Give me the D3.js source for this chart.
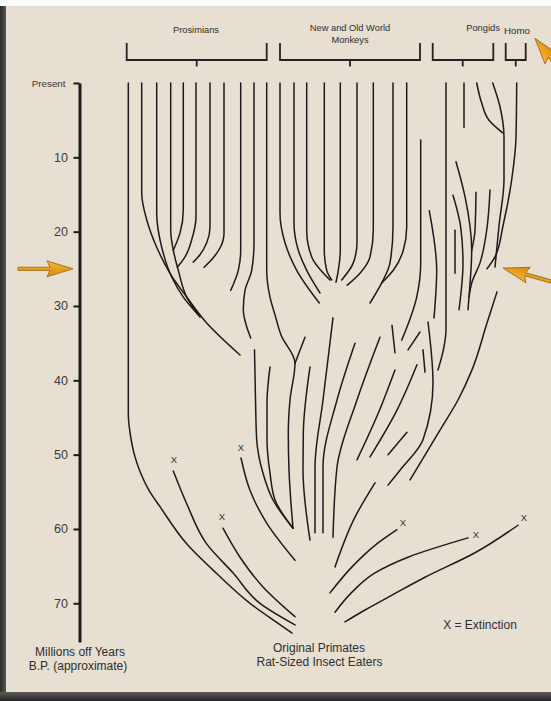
<!DOCTYPE html>
<html><head><meta charset="utf-8">
<script src="https://cdn.jsdelivr.net/npm/d3@7"></script>
<style>html,body{margin:0;padding:0;background:#fff;}svg{display:block;}</style>
</head><body>
<svg id="chart" width="551" height="701"></svg>
<script>
// ---------- DATA (lateral position units, millions of years B.P.) ----------
const timeTicks = [0, 10, 20, 30, 40, 50, 60, 70];
const tickLabels = ["Present", "10", "20", "30", "40", "50", "60", "70"];
const axisEnd = 75.2;

const groupNames = [["Prosimians"], ["New and Old World", "Monkeys"], ["Pongids"], ["Homo"]];
const groupFrom = [4.67, 20.0, 35.27, 42.57];
const groupTo = [18.67, 34.0, 41.33, 44.57];
const groupMid = [11.67, 27.0, 38.27, 43.57];
const groupLabelPos = [11.6, 27.0, 40.3, 43.7];

const prosimianLines = [
  [[4.83,0],[4.83,44.5],[5.0,47.0],[5.5,50.3],[6.07,52.5],[6.9,54.8],[8.0,57.0],[10.67,62.0],[13.67,66.0],[17.0,70.0],[19.6,72.5],[21.2,74.0]],
  [[6.17,0],[6.17,14.8],[6.67,18.4],[7.67,22.1],[9.0,25.6],[10.67,28.8],[12.67,32.3],[16.0,36.6]],
  [[7.67,0],[7.67,17.5],[8.17,22.1],[9.17,26.1],[10.33,28.8],[11.83,31.2]],
  [[9.07,0],[9.07,19.8],[9.33,22.5],[9.83,25.2],[10.67,28.8],[12.0,31.5]],
  [[10.33,0],[10.33,17.1],[10.0,20.2],[9.33,22.5]],
  [[11.6,0],[11.6,18.0],[11.17,21.1],[10.5,23.4],[9.73,24.8]],
  [[13.0,0],[13.0,19.4],[12.67,21.5],[12.0,23.1],[11.33,24.1]],
  [[14.4,0],[14.4,20.2],[14.0,22.2],[13.33,23.5],[12.4,24.8]],
  [[16.07,0],[16.07,22.5],[15.83,25.2],[15.07,27.9]],
  [[17.4,0],[17.4,21.5],[17.17,25.2],[16.5,27.9],[16.33,30.5],[16.67,32.8],[17.07,34.3]],
  [[18.67,0],[18.67,25.2],[19.0,28.8],[19.5,31.2],[20.1,33.9],[21.5,37.7],[21.0,42.65],[20.83,47.1],[20.9,52.1],[21.3,59.9]]
];

const monkeyLines = [
  [[20.0,0],[20.0,17.5],[20.5,21.5],[21.67,25.2],[23.93,29.6]],
  [[21.4,0],[21.4,18.8],[21.83,22.5],[22.67,25.2],[24.0,28.25]],
  [[22.67,0],[22.67,19.8],[23.17,23.4],[25.0,26.5]],
  [[24.43,0],[24.43,22.5],[24.67,25.2],[25.17,26.5]],
  [[26.03,0],[26.03,22.5],[25.83,25.2],[25.6,26.8]],
  [[27.7,0],[27.7,21.5],[27.33,24.2],[26.17,26.5]],
  [[29.33,0],[29.33,19.8],[29.0,23.4],[28.0,25.6],[26.73,27.2]],
  [[31.3,0],[31.3,19.4],[31.0,24.2],[30.17,26.9],[29.0,29.6]],
  [[32.67,0],[32.67,19.4],[32.33,22.5],[31.33,25.2],[30.17,26.9]],
  [[34.07,7.67],[34.07,24.2],[33.67,28.8],[32.17,34.6]],
  [[34.93,17.2],[35.67,25.2],[35.4,31.6]]
];

const apeLines = [
  [[36.6,0],[36.6,33.2],[36.4,35.5],[35.8,38.6]],
  [[38.4,0],[38.4,6.0]],
  [[39.67,0],[40.17,2.7],[40.9,5.0],[42.27,6.7]],
  [[41.27,0],[42.0,3.2],[42.4,7.3],[42.4,13.0],[41.9,19.2],[41.5,24.75]],
  [[37.6,10.6],[38.5,15.3],[39.17,22.5],[38.9,28.8],[38.8,30.5]],
  [[37.3,15.1],[38.07,19.4],[38.3,24.2],[37.9,30.5]],
  [[37.5,19.8],[37.5,25.6]],
  [[39.6,14.7],[39.5,19.8],[39.17,22.5]],
  [[41.0,14.4],[40.67,19.8],[40.0,24.2],[39.17,26.9],[38.9,28.8]]
];

const homoLines = [
  [[43.67,0],[43.6,7.3],[43.17,13.0],[42.3,19.2],[41.5,23.4],[40.7,25.0]]
];

const stemLines = [
  [[22.5,34.2],[21.5,37.7]],
  [[17.45,35.9],[17.55,42.65],[17.67,48.0],[18.3,52.5],[19.3,56.1],[21.3,59.9]],
  [[19.0,38.2],[18.7,43.0],[18.7,48.0],[19.0,52.5],[19.5,56.1],[21.3,59.9]],
  [[23.0,38.2],[22.33,47.1],[22.3,52.1],[23.0,61.5]],
  [[25.3,31.6],[24.3,42.65],[23.5,51.7],[23.5,60.5]],
  [[27.5,35.0],[25.7,42.65],[24.3,51.7],[24.3,60.5]],
  [[30.0,34.2],[27.7,42.65],[25.7,51.7],[25.3,61.1]],
  [[31.2,32.6],[31.5,36.3]],
  [[34.0,33.5],[32.8,35.9]],
  [[34.3,35.9],[34.5,38.9]],
  [[34.8,32.15],[35.3,40.4],[34.3,48.0],[32.0,52.1],[30.8,54.1]],
  [[31.5,38.6],[29.8,44.5],[27.7,50.7]],
  [[33.7,37.9],[31.7,44.0],[29.0,50.3]],
  [[32.7,47.0],[30.8,50.0]],
  [[29.5,53.8],[27.5,58.4],[25.5,65.1]],
  [[41.7,28.1],[40.7,32.3],[39.2,38.6],[37.8,42.65],[36.0,46.7],[33.0,53.4]]
];

const extinctLines = [
  [[9.33,52.2],[10.67,56.6],[12.67,62.0],[15.3,65.9],[18.0,70.0],[21.5,72.9]],
  [[16.1,50.45],[17.0,54.8],[18.67,59.2],[21.5,64.2]],
  [[14.3,59.9],[16.0,63.8],[18.3,67.8],[21.5,71.8]],
  [[31.7,60.1],[29.5,62.2],[27.2,65.1],[25.0,68.6]],
  [[38.8,61.2],[32.8,63.8],[29.5,65.9],[27.2,68.5],[25.5,71.2]],
  [[43.8,59.5],[39.5,63.2],[34.5,66.5],[31.2,68.9],[28.5,70.9],[26.5,72.5]]
];

const extinctMarks = [[9.4,50.6],[16.1,49.0],[14.2,58.4],[32.3,59.1],[39.6,60.8],[44.4,58.5]];

const arrowTails = [[-6.2,25.0],[47.1,26.7],[50.0,1.6]];
const arrowTips  = [[-0.7,25.0],[42.3,24.9],[45.5,-6.0]];

// ---------- DRAWING ----------
const svg = d3.select("#chart");
const W = 551, H = 701;
const x = d3.scaleLinear().domain([0, 46]).range([80, 540]);
const y = d3.scaleLinear().domain([0, 70]).range([83, 603.3]);
const font = "'Liberation Sans', Arial, sans-serif";
const ink = "#1b1b1b";
const textInk = "#2e2e2e";

const defs = svg.append("defs");
const lg = defs.append("linearGradient").attr("id","frameL").attr("x1",0).attr("x2",1).attr("y1",0).attr("y2",0);
lg.append("stop").attr("offset","0%").attr("stop-color","#2a2a2a");
lg.append("stop").attr("offset","100%").attr("stop-color","#555");
const bg = defs.append("linearGradient").attr("id","frameB").attr("x1",0).attr("x2",0).attr("y1",0).attr("y2",1);
bg.append("stop").attr("offset","0%").attr("stop-color","#5a5a5a");
bg.append("stop").attr("offset","100%").attr("stop-color","#262626");
const ag = defs.append("linearGradient").attr("id","arrowG").attr("x1",0).attr("x2",0).attr("y1",0).attr("y2",1);
ag.append("stop").attr("offset","0%").attr("stop-color","#f7b531");
ag.append("stop").attr("offset","100%").attr("stop-color","#d98a0c");

svg.append("rect").attr("width",W).attr("height",H).attr("fill","#fdfdfd");
svg.append("rect").attr("x",0).attr("y",6).attr("width",W).attr("height",H-6).attr("fill","#e7dfd2");
svg.append("rect").attr("x",0).attr("y",6).attr("width",6).attr("height",H-6).attr("fill","url(#frameL)");
svg.append("rect").attr("x",0).attr("y",692).attr("width",W).attr("height",9).attr("fill","url(#frameB)");

// axis
const axisScale = y.copy().domain([0, axisEnd]).range([y(0), y(axisEnd)]);
const axisG = svg.append("g").attr("transform","translate(79.5,0)")
  .call(d3.axisLeft(axisScale).tickValues(timeTicks).tickSize(6).tickSizeOuter(0).tickPadding(5.5)
    .tickFormat((d,i)=>tickLabels[i]));
axisG.select(".domain").attr("stroke",ink).attr("stroke-width",3);
axisG.selectAll(".tick line").attr("stroke",ink).attr("stroke-width",2);
axisG.selectAll(".tick text").attr("fill","#3a3a3a").attr("font-family",font).attr("font-size",12.5);
axisG.selectAll(".tick text").filter((d,i)=>i===0).attr("font-size",9.8).attr("x",-14);

svg.append("text").attr("x",80).attr("y",656).attr("text-anchor","middle")
  .attr("font-family",font).attr("font-size",12).attr("fill",textInk).text("Millions off Years");
svg.append("text").attr("x",78).attr("y",669.5).attr("text-anchor","middle")
  .attr("font-family",font).attr("font-size",12).attr("fill",textInk).text("B.P. (approximate)");

// group brackets
groupNames.forEach((names,i)=>{
  const g = svg.append("g");
  g.append("path")
    .attr("d",`M${x(groupFrom[i])},43V60H${x(groupTo[i])}V43M${x(groupMid[i])},60V66.5`)
    .attr("fill","none").attr("stroke","#222").attr("stroke-width",1.8);
  const base = names.length===2 ? 30.5 : (i===3 ? 33.5 : (i===2 ? 30.5 : 32.5));
  names.forEach((t,j)=>{
    g.append("text").attr("x",x(groupLabelPos[i])).attr("y",base + j*12.8)
      .attr("text-anchor","middle").attr("font-family",font).attr("font-size",i===3 ? 9.8 : 9.3)
      .attr("fill",textInk).text(t);
  });
});

// lineages
const line = d3.line().x(d=>x(d[0])).y(d=>y(d[1])).curve(d3.curveMonotoneY);
const allLines = [].concat(prosimianLines, monkeyLines, apeLines, homoLines, stemLines, extinctLines);
svg.append("g").selectAll("path").data(allLines).join("path")
  .attr("d", line).attr("fill","none").attr("stroke",ink).attr("stroke-width",1.5)
  .attr("stroke-linecap","round");

// extinction marks
svg.append("g").selectAll("text").data(extinctMarks).join("text")
  .attr("x",d=>x(d[0])).attr("y",d=>y(d[1])).attr("dy","0.36em")
  .attr("text-anchor","middle").attr("font-family",font).attr("font-size",9.5)
  .attr("fill","#333").text("X");

svg.append("text").attr("x",480).attr("y",629).attr("text-anchor","middle")
  .attr("font-family",font).attr("font-size",12).attr("fill",textInk).text("X = Extinction");
svg.append("text").attr("x",319).attr("y",652).attr("text-anchor","middle")
  .attr("font-family",font).attr("font-size",12).attr("fill",textInk).text("Original Primates");
svg.append("text").attr("x",319.5).attr("y",665.5).attr("text-anchor","middle")
  .attr("font-family",font).attr("font-size",12).attr("fill",textInk).text("Rat-Sized Insect Eaters");

// arrows
arrowTips.forEach((tip,i)=>{
  const t0 = [x(arrowTails[i][0]), y(arrowTails[i][1])];
  const t1 = [x(tip[0]), y(tip[1])];
  const dx = t1[0]-t0[0], dy = t1[1]-t0[1];
  const len = Math.hypot(dx,dy);
  const ang = Math.atan2(dy,dx)*180/Math.PI;
  const hl = 23, hw = 8, sw = 1.6;
  const p = `M0,${-sw}L${len-hl},${-sw}L${len-hl-3},${-hw}L${len},0L${len-hl-3},${hw}L${len-hl},${sw}L0,${sw}Z`;
  svg.append("path").attr("d",p)
    .attr("transform",`translate(${t0[0]},${t0[1]}) rotate(${ang})`)
    .attr("fill","url(#arrowG)").attr("stroke","#9b6410").attr("stroke-width",0.8);
});
</script>
</body></html>
